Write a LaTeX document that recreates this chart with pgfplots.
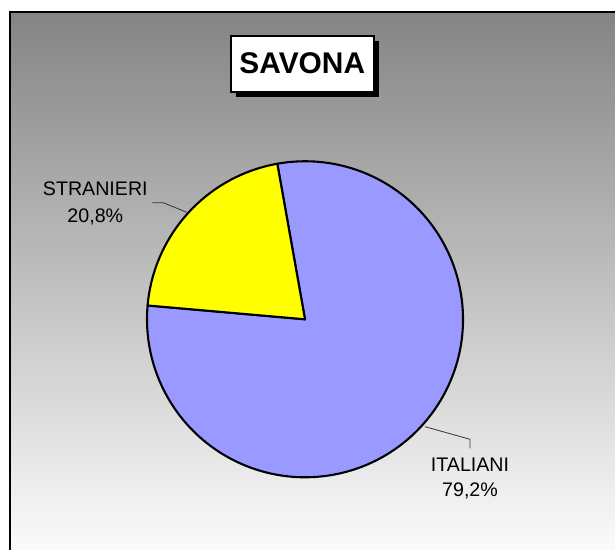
\documentclass[border=0pt]{standalone}
\usepackage{pgfplots}
\pgfplotsset{compat=1.18}
\usepackage{fontspec}
\setmainfont{Liberation Sans}
\definecolor{italiani}{HTML}{9999FF}
\definecolor{stranieri}{HTML}{FFFF00}
\definecolor{bgtop}{HTML}{848484}
\definecolor{bgbot}{HTML}{FBFBFB}
% data (percent)
\def\valItaliani{79.2}
\def\valStranieri{20.8}
\pgfmathsetmacro{\aStart}{100.1}
\pgfmathsetmacro{\aMid}{\aStart-\valItaliani*3.6}
\pgfmathsetmacro{\aEnd}{\aMid-\valStranieri*3.6}
\begin{document}
\begin{tikzpicture}
\begin{axis}[
  hide axis, scale only axis,
  width=615bp, height=550bp,
  xmin=0, xmax=615, ymin=0, ymax=550,
  clip=true,
]
% page
\fill[white] (axis cs:0,0) rectangle (axis cs:615,550);
% background
\shade[top color=bgtop, bottom color=bgbot] (axis cs:10,0) rectangle (axis cs:615,538);
\draw[black, line width=1.2bp] (axis cs:10,0) -- (axis cs:10,538) -- (axis cs:615,538);
% title box
\fill[black] (axis cs:235.7,452.7) rectangle (axis cs:379,509.3);
\draw[black, fill=white, line width=1.8bp] (axis cs:230.7,458.3) rectangle (axis cs:374,514.3);
\node[font=\fontsize{30}{30}\selectfont\bfseries] at (axis cs:302.3,486.3) {SAVONA};
% pie
\filldraw[fill=italiani, draw=black, line width=2.1bp, line join=round]
  (axis cs:305,230.7) -- ++(\aStart:158bp) arc[start angle=\aStart, end angle=\aMid, radius=158bp] -- cycle;
\filldraw[fill=stranieri, draw=black, line width=2.1bp, line join=round]
  (axis cs:305,230.7) -- ++(\aMid:158bp) arc[start angle=\aMid, end angle=\aEnd, radius=158bp] -- cycle;
% leader lines
\draw[black!80, line width=0.8bp] (axis cs:152.3,347.3) -- (axis cs:163.3,347.3) -- (axis cs:186.7,337.7);
\draw[black!80, line width=0.8bp] (axis cs:425,123.3) -- (axis cs:470,110.7) -- (axis cs:470,101.7);
% labels
\node[anchor=base, font=\fontsize{19.7}{19.7}\selectfont] at (axis cs:95.3,354.3) {STRANIERI};
\node[anchor=base, font=\fontsize{19.7}{19.7}\selectfont] at (axis cs:95.3,327.7) {20,8\%};
\node[anchor=base, font=\fontsize{19.7}{19.7}\selectfont] at (axis cs:470,78) {ITALIANI};
\node[anchor=base, font=\fontsize{19.7}{19.7}\selectfont] at (axis cs:470,53) {79,2\%};
\end{axis}
\useasboundingbox (current axis.south west) rectangle (current axis.north east);
\end{tikzpicture}
\end{document}
